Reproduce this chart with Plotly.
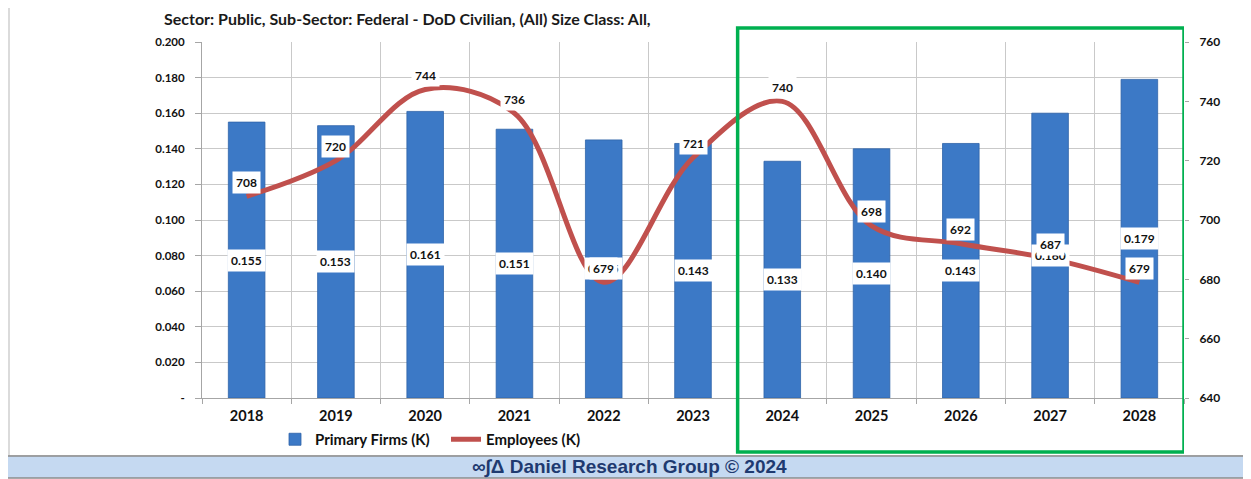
import plotly.graph_objects as go

# ---------------- data ----------------
years = ["2018", "2019", "2020", "2021", "2022", "2023", "2024", "2025", "2026", "2027", "2028"]
primary_firms = [0.155, 0.153, 0.161, 0.151, 0.145, 0.143, 0.133, 0.140, 0.143, 0.160, 0.179]
employees = [708, 720, 744, 736, 679, 721, 740, 698, 692, 687, 679]
forecast_start = "2024"

left_tickvals = [0, 0.02, 0.04, 0.06, 0.08, 0.10, 0.12, 0.14, 0.16, 0.18, 0.20]
left_ticktext = ["-", "0.020", "0.040", "0.060", "0.080", "0.100", "0.120", "0.140", "0.160", "0.180", "0.200"]
right_tickvals = [640, 660, 680, 700, 720, 740, 760]

title_text = "Sector: Public, Sub-Sector: Federal - DoD Civilian, (All) Size Class: All,"
footer_text = "∞∫Δ Daniel Research Group © 2024"

# ---------------- geometry helpers (page pixel layout) ----------------
PAGE_W, PAGE_H = 1251, 479
OFF = 8  # default body margin of the page
W, H = PAGE_W - OFF, PAGE_H - OFF
PL, PR, PT, PB = 202, 1184, 42, 398  # plot area in page pixels


def px_x(p):
    return (p - PL) / (PR - PL)


def px_y(p):
    return (PB - p) / (PB - PT)


FONT = "Lato"
BAR_COLOR = "#3C79C6"
LINE_COLOR = "#C0504D"
GRID = "#C9C9C9"

idx = list(range(len(years)))

fig = go.Figure()

fig.add_trace(go.Bar(
    x=years, y=primary_firms, name="Primary Firms (K)",
    marker=dict(color=BAR_COLOR, line=dict(color="#2F63A8", width=0.8)),
    width=0.41, yaxis="y", hoverinfo="skip",
))

fig.add_trace(go.Scatter(
    x=years, y=employees, name="Employees (K)", mode="lines",
    line=dict(color=LINE_COLOR, width=5, shape="spline", smoothing=1.0),
    yaxis="y2", hoverinfo="skip",
))

annotations = []
label_font = dict(family=FONT, size=12, color="#111111", weight="bold")

# bar value labels (centre of the bar)
for i, v in zip(idx, primary_firms):
    annotations.append(dict(
        x=i, y=v / 2, xref="x", yref="y", text=f"{v:.3f}", showarrow=False,
        font=label_font, bgcolor="white", borderpad=3,
    ))

# line value labels (just above the point)
for i, v in zip(idx, employees):
    annotations.append(dict(
        x=i, y=v, xref="x", yref="y2", text=f"{v:d}", showarrow=False,
        font=label_font, bgcolor="white", borderpad=3, yshift=14,
    ))

# title
annotations.append(dict(
    x=px_x(162), y=px_y(18), xref="paper", yref="paper", xanchor="left", yanchor="middle",
    text=title_text, showarrow=False,
    font=dict(family=FONT, size=16, color="#1a1a1a", weight="bold"),
))

# footer
annotations.append(dict(
    x=px_x(629), y=px_y(467), xref="paper", yref="paper", xanchor="center", yanchor="middle",
    text=footer_text, showarrow=False,
    font=dict(family="Liberation Sans", size=19, color="#1F3A70", weight="bold"),
))

fs_idx = years.index(forecast_start)
shapes = [
    # outer chart border
    dict(type="rect", xref="paper", yref="paper",
         x0=px_x(9), x1=px_x(1247), y0=px_y(456), y1=px_y(4),
         line=dict(color="#D0D0D0", width=1.5), fillcolor="rgba(0,0,0,0)", layer="above"),
    # footer band
    dict(type="rect", xref="paper", yref="paper",
         x0=px_x(6), x1=px_x(1252), y0=px_y(478), y1=px_y(456),
         line=dict(color="#8C8C8C", width=1.5), fillcolor="#C5D9F1", layer="above"),
    # forecast highlight box
    dict(type="rect", xref="x", yref="paper",
         x0=fs_idx - 0.5, x1=len(years) - 0.5, y0=px_y(452), y1=px_y(28),
         line=dict(color="#00B050", width=3.5), fillcolor="rgba(0,0,0,0)", layer="above"),
]

fig.update_layout(
    width=W, height=H,
    margin=dict(l=PL - OFF, r=W - (PR - OFF), t=PT - OFF, b=H - (PB - OFF), autoexpand=False),
    paper_bgcolor="white", plot_bgcolor="white",
    font=dict(family=FONT, color="#111111"),
    showlegend=True,
    legend=dict(
        orientation="h", x=px_x(275), y=px_y(423), xanchor="left", yanchor="top",
        font=dict(family=FONT, size=15, color="#111111", weight="bold"),
        bgcolor="rgba(0,0,0,0)", itemwidth=30, tracegroupgap=0,
        entrywidth=126, entrywidthmode="pixels",
    ),
    bargap=0.59,
    xaxis=dict(
        type="category", range=[-0.5, len(years) - 0.5], automargin=False,
        tickson="boundaries", ticks="outside", ticklen=5, tickcolor="#A6A6A6",
        tickangle=0,
        showgrid=True, gridcolor=GRID, gridwidth=1,
        showline=True, linecolor="#A6A6A6", linewidth=1,
        tickfont=dict(family=FONT, size=14.5, color="#111111", weight="bold"),
        ticklabelstandoff=5,
    ),
    yaxis=dict(
        range=[0, 0.2], tickvals=left_tickvals, ticktext=left_ticktext, automargin=False,
        ticks="outside", ticklen=6, tickcolor="#A6A6A6",
        showgrid=True, gridcolor=GRID, gridwidth=1, zeroline=False,
        showline=True, linecolor="#A6A6A6", linewidth=1,
        tickfont=dict(family=FONT, size=11.5, color="#111111", weight="bold"),
        ticklabelstandoff=8,
    ),
    yaxis2=dict(
        range=[640, 760], tickvals=right_tickvals, overlaying="y", side="right", automargin=False,
        ticks="outside", ticklen=4, tickcolor="#A6A6A6",
        showgrid=False, zeroline=False, showline=False,
        tickfont=dict(family=FONT, size=12, color="#111111", weight="bold"),
        ticklabelstandoff=8,
    ),
    annotations=annotations,
    shapes=shapes,
)

fig.write_html("out.html")
